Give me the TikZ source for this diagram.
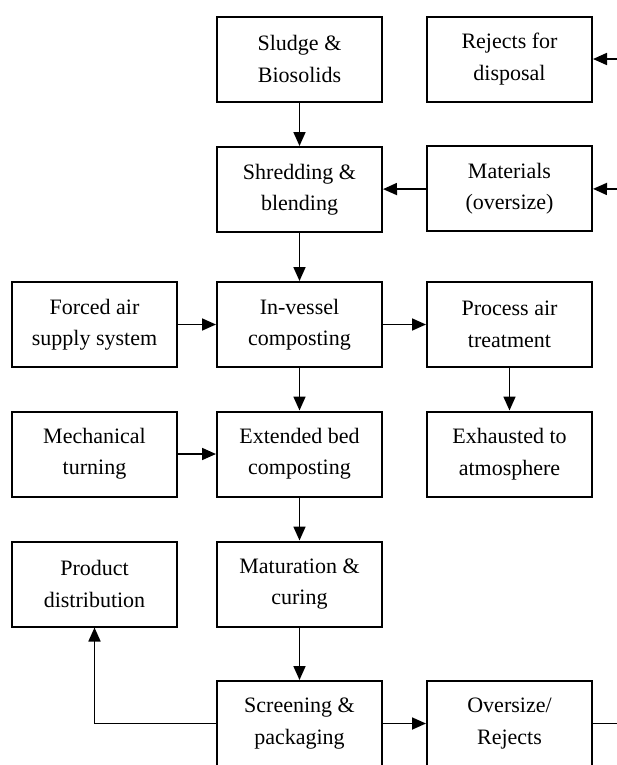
\documentclass[tikz,border=0pt]{standalone}
\usepackage{fontspec}
\setmainfont{Liberation Serif}
\usetikzlibrary{arrows.meta}

\tikzset{
  stage/.style={draw, line width=1.5pt, minimum width=123.75pt, minimum height=63.75pt,
    align=center, inner sep=2pt, font=\fontsize{16.5}{23.6}\selectfont},
  flow/.style={line width=1.3pt, -{Triangle[length=10.5pt,width=9pt]}},
  link/.style={line width=1.3pt}
}

\begin{document}
\begin{tikzpicture}[x=0.75pt,y=-0.75pt]
  \useasboundingbox (0,0) rectangle (617,765);
  \clip (0,0) rectangle (617,765);

  \node[stage] (sludge)   at (299.5,59)    {Sludge \&\\Biosolids};
  \node[stage] (reject)   at (509.5,59)    {Rejects for\\disposal};
  \node[stage] (shred)    at (299.5,189.5) {Shredding \&\\blending};
  \node[stage] (mater)    at (509.5,188.5) {Materials\\(oversize)};
  \node[stage] (forced)   at (94.5,324.5)  {Forced air\\supply system};
  \node[stage] (invessel) at (299.5,324.5) {In-vessel\\composting};
  \node[stage] (procair)  at (509.5,324.5) {Process air\\treatment};
  \node[stage] (mech)     at (94.5,454)    {Mechanical\\turning};
  \node[stage] (extbed)   at (299.5,454)   {Extended bed\\composting};
  \node[stage] (exhaust)  at (509.5,454)   {Exhausted to\\atmosphere};
  \node[stage] (product)  at (94.5,584)    {Product\\distribution};
  \node[stage] (matur)    at (299.5,584)   {Maturation \&\\curing};
  \node[stage] (screen)   at (299.5,723.5) {Screening \&\\packaging};
  \node[stage] (oversz)   at (509.5,723.5) {Oversize/\\Rejects};

  \coordinate (inR) at (617,59);
  \coordinate (inM) at (617,189);
  \coordinate (outO) at (617,723.5);

  \draw[flow] (inR) -- (reject);
  \draw[flow] (inM) -- (mater);
  \draw[flow] (mater) -- (shred);
  \draw[flow] (sludge) -- (shred);
  \draw[flow] (shred) -- (invessel);
  \draw[flow] (forced) -- (invessel);
  \draw[flow] (invessel) -- (procair);
  \draw[flow] (procair) -- (exhaust);
  \draw[flow] (invessel) -- (extbed);
  \draw[flow] (mech) -- (extbed);
  \draw[flow] (extbed) -- (matur);
  \draw[flow] (matur) -- (screen);
  \draw[flow] (screen) -- (oversz);
  \draw[flow] (screen.west) -| (product.south);
  \draw[link] (oversz) -- (outO);
\end{tikzpicture}
\end{document}
